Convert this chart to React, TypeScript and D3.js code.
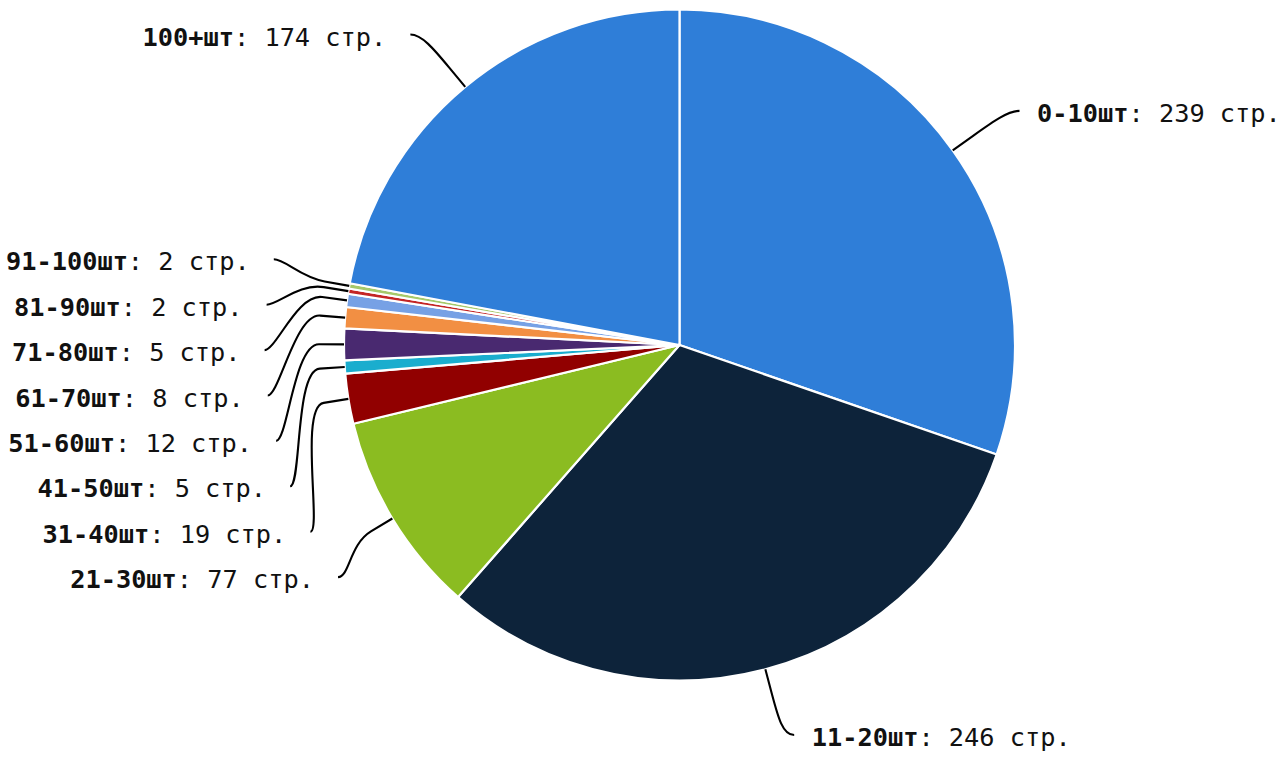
import React from 'react';
import * as d3 from 'd3';

// ---- data ----
const categories = ['0-10шт', '11-20шт', '21-30шт', '31-40шт', '41-50шт', '51-60шт', '61-70шт', '71-80шт', '81-90шт', '91-100шт', '100+шт'];
const pageCounts = [239, 246, 77, 19, 5, 12, 8, 5, 2, 2, 174];
const unitLabel = 'стр.';
const palette = ['#2f7ed8', '#0d233a', '#8bbc21', '#910000', '#1aadce', '#492970', '#f28f43', '#77a1e5', '#c42525', '#a6c96a'];

// ---- layout constants ----
const W = 1287;
const H = 757;
const cx = 679.5;
const cy = 345;
const r = 335.5;
const labelDist = 68;
const connectorPadding = 11.4;
const connectorOffset = 25;
const labelHeight = 45.4;
const FONT = '"DejaVu Sans Mono", monospace';

type LP = {
  i: number;
  std: number;
  half: number;
  natY: number;
  edge: [number, number];
  brk: [number, number];
  connX: number;
  connY: number;
};

function layout() {
  const arcs = d3.pie<number>().sort(null).value((d) => d)(pageCounts);
  const R = r + labelDist;
  const pts: LP[] = arcs.map((a, i) => {
    const mid = (a.startAngle + a.endAngle) / 2;
    const std = mid - Math.PI / 2;
    const c = Math.cos(std);
    const s = Math.sin(std);
    return {
      i,
      std,
      half: std > Math.PI / 2 ? 1 : 0,
      natY: cy + R * s,
      edge: [cx + r * c, cy + r * s],
      brk: [cx + (r + connectorOffset) * c, cy + (r + connectorOffset) * s],
      connX: 0,
      connY: 0,
    };
  });
  const getX = (y: number, left: boolean) => {
    const ang = Math.asin(Math.max(-1, Math.min(1, (y - cy) / R)));
    return cx + (left ? -1 : 1) * Math.cos(ang) * R;
  };
  for (let h = 0; h < 2; h++) {
    const points = pts.filter((p) => p.half === h);
    points.sort((a, b) => (h === 1 ? b.std - a.std : a.std - b.std));
    const slots: (number | null)[] = [];
    for (let pos = cy - R; pos <= cy + R; pos += labelHeight) slots.push(pos);
    const orig = slots.slice() as number[];
    const slotsLength = slots.length;
    const length = points.length;
    const used: { i: number; y: number }[] = [];
    for (let j = 0; j < length; j++) {
      const p = points[j];
      let closest = 9999;
      let slotIndex = 0;
      for (let k = 0; k < slotsLength; k++) {
        const dd = Math.abs(orig[k] - p.natY);
        if (dd < closest) {
          closest = dd;
          slotIndex = k;
        }
      }
      if (slotIndex < j && slots[j] !== null) {
        slotIndex = j;
      } else if (slotsLength < length - j + slotIndex && slots[j] !== null) {
        slotIndex = slotsLength - length + j;
        while (slots[slotIndex] === null) slotIndex++;
      } else {
        while (slots[slotIndex] === null) slotIndex++;
      }
      used.push({ i: slotIndex, y: slots[slotIndex] as number });
      slots[slotIndex] = null;
    }
    used.sort((a, b) => b.y - a.y);
    for (let j = 0; j < length; j++) {
      const p = points[j];
      const slot = used.pop()!;
      let y = slot.y;
      const si = slot.i;
      if ((p.natY > y && slots[si + 1] !== null) || (p.natY < y && slots[si - 1] !== null)) {
        y = p.natY;
      }
      const x = getX(si === 0 || si === slotsLength - 1 ? p.natY : y, h === 1);
      p.connX = x;
      p.connY = y;
    }
  }
  return { arcs, pts };
}

export default function App() {
  const { arcs, pts } = layout();
  const arcGen = d3.arc<d3.PieArcDatum<number>>().innerRadius(0).outerRadius(r);
  return (
    <svg
      width={W}
      height={H}
      style={{ position: 'absolute', left: 0, top: 0, background: '#fff' }}
    >
      <g transform={`translate(${cx},${cy})`}>
        {arcs.map((a, i) => (
          <path
            key={i}
            d={arcGen(a) as string}
            fill={palette[i % palette.length]}
            stroke="#ffffff"
            strokeWidth={2.2}
            strokeLinejoin="round"
          />
        ))}
      </g>
      {pts.map((p) => {
        const left = p.half === 1;
        const sx = p.connX + (left ? -connectorPadding : connectorPadding);
        const c2x = 2 * p.brk[0] - p.edge[0];
        const c2y = 2 * p.brk[1] - p.edge[1];
        const d = `M${sx},${p.connY}C${p.connX},${p.connY} ${c2x},${c2y} ${p.brk[0]},${p.brk[1]}L${p.edge[0]},${p.edge[1]}`;
        return <path key={'c' + p.i} d={d} fill="none" stroke="#000" strokeWidth={2.1} />;
      })}
      {pts.map((p) => {
        const left = p.half === 1;
        const tx = left ? p.connX - 35.5 : p.connX + 29;
        return (
          <text
            key={'t' + p.i}
            x={tx}
            y={p.connY + 11}
            textAnchor={left ? 'end' : 'start'}
            fontFamily={FONT}
            fontSize={25.3}
            fill="#111"
          >
            <tspan fontWeight="bold">{categories[p.i]}</tspan>
            {`: ${pageCounts[p.i]} ${unitLabel}`}
          </text>
        );
      })}
    </svg>
  );
}
